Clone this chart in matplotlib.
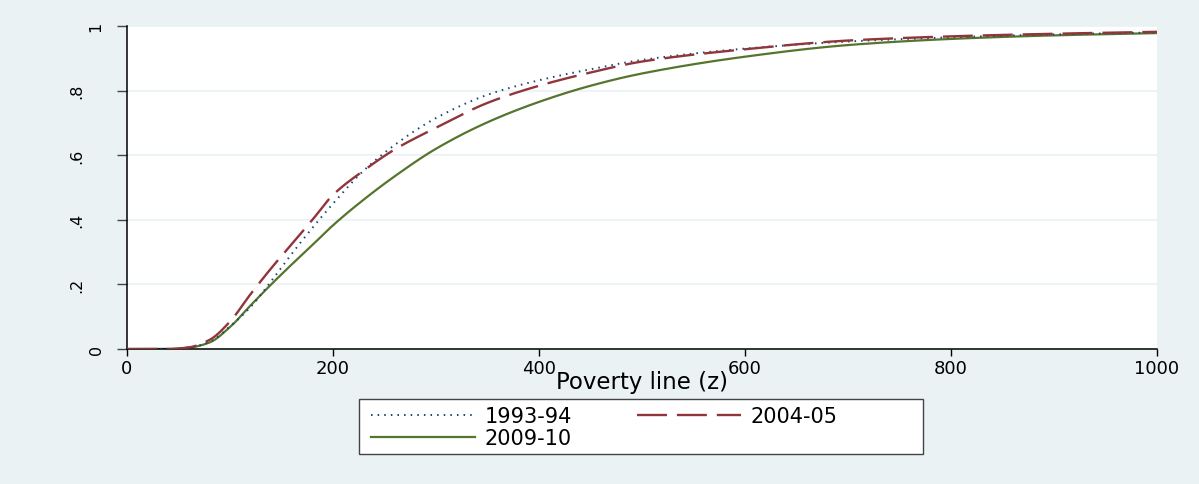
import numpy as np
import matplotlib
matplotlib.use("Agg")
import matplotlib.pyplot as plt
from matplotlib.patches import Rectangle
from matplotlib.transforms import blended_transform_factory

plt.rcParams['font.family'] = ['DejaVu Sans']

# Poverty line (z) grid and cumulative headcount for each survey round
poverty_line = [0, 40, 60, 80, 100, 120, 140, 160, 180, 200, 230, 260, 300,
                350, 400, 450, 500, 600, 700, 800, 900, 1000]
share_1993_94 = [0, 0, 0.004, 0.022, 0.07, 0.13, 0.21, 0.295, 0.375, 0.45,
                 0.553, 0.632, 0.715, 0.787, 0.832, 0.866, 0.895, 0.93,
                 0.952, 0.965, 0.974, 0.98]
share_2004_05 = [0, 0, 0.005, 0.028, 0.085, 0.17, 0.25, 0.325, 0.40, 0.477,
                 0.553, 0.618, 0.685, 0.762, 0.815, 0.856, 0.89, 0.928,
                 0.955, 0.968, 0.976, 0.982]
share_2009_10 = [0, 0, 0.004, 0.02, 0.068, 0.135, 0.20, 0.262, 0.322, 0.383,
                 0.463, 0.535, 0.620, 0.702, 0.765, 0.815, 0.853, 0.905,
                 0.941, 0.960, 0.971, 0.978]

series_labels = ["1993-94", "2004-05", "2009-10"]
x_ticks = [0, 200, 400, 600, 800, 1000]
y_ticks = [0, 0.2, 0.4, 0.6, 0.8, 1.0]
y_tick_labels = ["0", ".2", ".4", ".6", ".8", "1"]

bg = "#EAF2F3"
W, H = 1199, 485
fig = plt.figure(figsize=(W / 100, H / 100), dpi=100, facecolor=bg)
ax = fig.add_axes([127 / W, 1 - 350 / H, (1157 - 127) / W, (350 - 27) / H])
ax.set_facecolor("white")


def smooth(x, y, n=800):
    """Monotone cubic (PCHIP) interpolation through the tabulated points."""
    x = np.asarray(x, float)
    y = np.asarray(y, float)
    xs = np.linspace(x[0], x[-1], n)
    h = np.diff(x)
    d = np.diff(y) / h
    m = np.zeros_like(y)
    m[0], m[-1] = d[0], d[-1]
    for i in range(1, len(y) - 1):
        if d[i - 1] * d[i] <= 0:
            m[i] = 0
        else:
            w1 = 2 * h[i] + h[i - 1]
            w2 = h[i] + 2 * h[i - 1]
            m[i] = (w1 + w2) / (w1 / d[i - 1] + w2 / d[i])
    idx = np.clip(np.searchsorted(x, xs) - 1, 0, len(x) - 2)
    t = (xs - x[idx]) / h[idx]
    h00 = 2 * t**3 - 3 * t**2 + 1
    h10 = t**3 - 2 * t**2 + t
    h01 = -2 * t**3 + 3 * t**2
    h11 = t**3 - t**2
    ys = (h00 * y[idx] + h10 * h[idx] * m[idx] + h01 * y[idx + 1]
          + h11 * h[idx] * m[idx + 1])
    return xs, ys


l1, = ax.plot(*smooth(poverty_line, share_1993_94), color="#1a476f", lw=1.4,
              linestyle=(0, (0.8, 2.6)), label=series_labels[0], zorder=3)
l2, = ax.plot(*smooth(poverty_line, share_2004_05), color="#90353b", lw=1.7,
              linestyle=(0, (12.7, 4.2)), label=series_labels[1], zorder=4)
l3, = ax.plot(*smooth(poverty_line, share_2009_10), color="#55752f", lw=1.6,
              linestyle="-", label=series_labels[2], zorder=2)

ax.set_xlim(0, 1000)
ax.set_ylim(0, 1)
ax.set_xticks(x_ticks)
ax.set_xticklabels([str(t) for t in x_ticks], fontsize=13)
ax.set_yticks(y_ticks)
ax.set_yticklabels([])
ax.tick_params(axis="x", length=5, width=1, pad=2, color="black")
ax.tick_params(axis="y", length=7.5, width=1, color="#444444")
ax.grid(axis="y", color=bg, lw=1.2)
ax.set_axisbelow(True)
for s in ["top", "right"]:
    ax.spines[s].set_visible(False)
ax.spines["left"].set_linewidth(1.1)
ax.spines["bottom"].set_linewidth(1.1)

# Rotated y tick labels; labels with a leading point sit further out
ytrans = blended_transform_factory(ax.transAxes, ax.transData)
for val, lab in zip(y_ticks, y_tick_labels):
    xpos = -0.0485 if lab.startswith(".") else -0.030
    ax.text(xpos, val, lab, transform=ytrans, rotation=90, fontsize=11.5,
            ha="center", va="center")

ax.set_xlabel("Poverty line (z)", fontsize=16.5, va="center")
ax.xaxis.set_label_coords(0.5, -0.101)

# Legend: white box with two columns, row-major order
fig.patches.append(Rectangle((359 / W, 1 - 455 / H), (923 - 359) / W, 55 / H,
                             transform=fig.transFigure, facecolor="white",
                             edgecolor="#444444", lw=1.0, zorder=1))
leg = fig.legend([l1, l3, l2], [series_labels[0], series_labels[2], series_labels[1]],
                 ncol=2, loc="upper left",
                 bbox_to_anchor=(367 / W, 1 - 403 / H),
                 fontsize=15, frameon=False,
                 handlelength=5.0, handletextpad=0.45, borderpad=0.2,
                 labelspacing=0.1, columnspacing=3.1, borderaxespad=0)
leg.set_zorder(2)

fig.savefig("out.png", dpi=100, facecolor=bg)
